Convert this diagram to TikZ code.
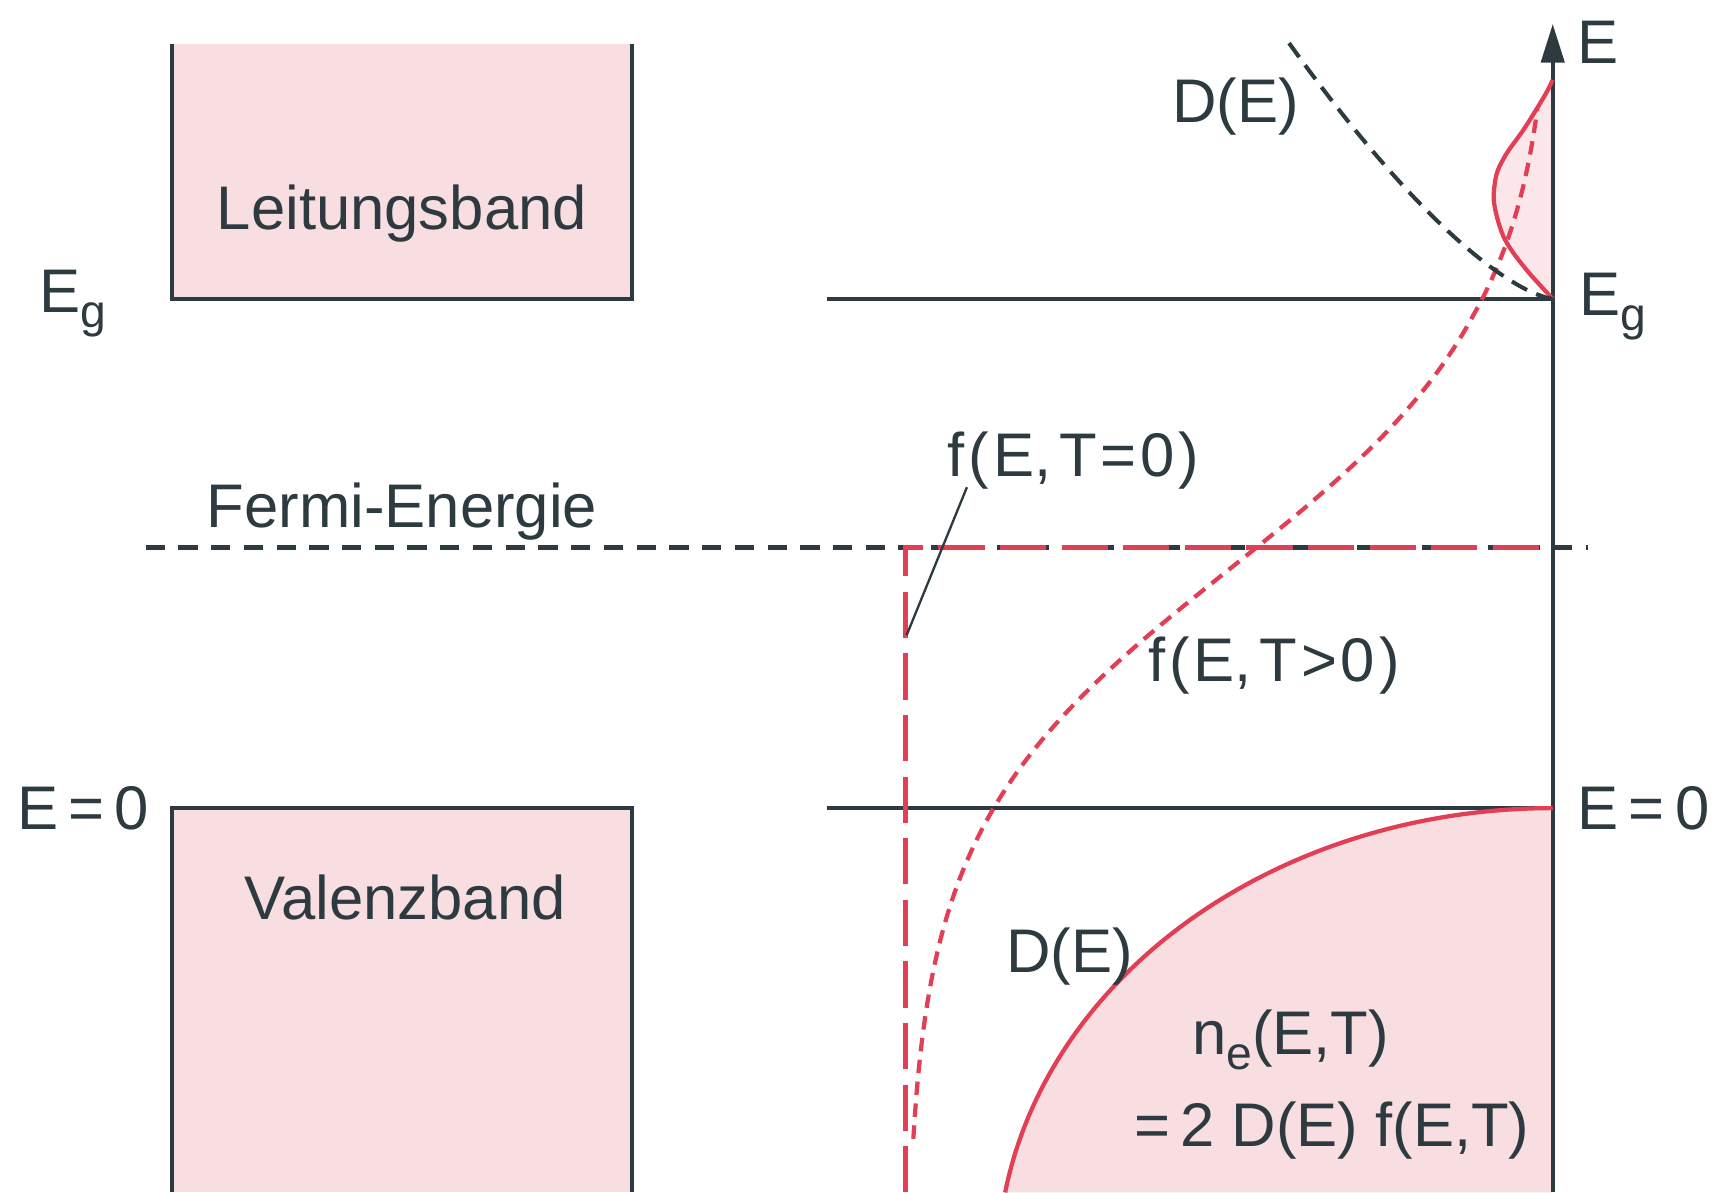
\documentclass[tikz,border=0pt]{standalone}
\usepackage{fontspec}
\setmainfont{Liberation Sans}
\usetikzlibrary{arrows.meta}
\definecolor{bandpink}{RGB}{248,221,225}
\definecolor{lobepink}{RGB}{251,230,234}
\definecolor{curvered}{RGB}{226,62,84}
\definecolor{ink}{RGB}{45,58,64}
\newcommand\lowsub[1]{\raisebox{-4pt}{\fontsize{12}{12}\selectfont #1}}
\begin{document}
\begin{tikzpicture}[x=0.01cm,y=0.01cm,
  lbl/.style={font=\fontsize{16}{16}\selectfont, text=ink, inner sep=0pt, anchor=base west},
  clbl/.style={font=\fontsize{16}{16}\selectfont, text=ink, inner sep=0pt, anchor=base},
  inkline/.style={draw=ink, line width=1.05pt},
  redsolid/.style={draw=curvered, line width=1.1pt},
  redlong/.style={draw=curvered, line width=1.1pt, dash pattern=on 12pt off 4pt},
  redshort/.style={draw=curvered, line width=1.1pt, dash pattern=on 3.5pt off 2.2pt},
  inkdash/.style={draw=ink, line width=1.05pt, dash pattern=on 5pt off 3.5pt},
  leader/.style={draw=ink, line width=0.6pt}]
\useasboundingbox (0,0) rectangle (1568,1089);

% band boxes
\fill[bandpink] (157,816) rectangle (577,1049);
\draw[inkline] (157,1049) -- (157,816) -- (577,816) -- (577,1049);
\fill[bandpink] (157,0) rectangle (577,351);
\draw[inkline] (157,0) -- (157,351) -- (577,351) -- (577,0);

% filled regions on the right
\fill[bandpink] (1418,351) -- plot[domain=90:170.54, samples=80] ({1418+507*cos(\x)}, {-69+420*sin(\x)}) -- (1418,0) -- cycle;
\fill[lobepink] plot[smooth] coordinates {(1418,816) (1397,839) (1382,858) (1373,873) (1367,891) (1364,909) (1367,931) (1376,949) (1391,970) (1403,989) (1412,1004) (1418,1016)} -- cycle;

% Fermi level
\draw[inkdash] (133,589) -- (1450,589);

% level lines and axis
\draw[inkline] (755,816) -- (1418,816);
\draw[inkline] (755,351) -- (1418,351);
\draw[inkline, -{Triangle[length=10pt,width=6pt]}] (1418,0) -- (1418,1067);

% f(E,T=0)
\draw[redlong] (827,0) -- (827,589) -- (1418,589);
% f(E,T>0)
\draw[redshort] plot[domain=49:990, samples=120, smooth] ({1418-591/(1+exp((\x-569)/(118-0.025*max(\x-800,0))))}, \x);

% densities
\draw[redsolid] plot[domain=90:170.54, samples=80] ({1418+507*cos(\x)}, {-69+420*sin(\x)});
\draw[redsolid] plot[smooth] coordinates {(1418,816) (1397,839) (1382,858) (1373,873) (1367,891) (1364,909) (1367,931) (1376,949) (1391,970) (1403,989) (1412,1004) (1418,1016)};
\draw[draw=ink, line width=1.05pt, dash pattern=on 4.5pt off 2.6pt] (1418,816) -- plot[domain=1:234, samples=60, smooth] ({1418-5.44*\x^0.695}, {816+\x});

% labels
\node[clbl] (lb) at (367,879) {Leitungsband};
\node[clbl] (vb) at (370,249) {Valenzband};
\node[clbl] (fe) at (367,607) {Fermi-Energie};
\node[lbl] (egl) at (35,804) {E\lowsub{g}};
\node[lbl] (e0l) at (15,331) {E\,=\,0};
\node[lbl] (egr) at (1442,801) {E\lowsub{g}};
\node[lbl] (e0r) at (1440,331) {E\,=\,0};
\node[lbl] (eax) at (1440,1031) {E};
\node[lbl] (dtop) at (1070,977) {D(E)};
\node[lbl] (f0) at (865,654) {f\kern1pt(\kern1pt E,\kern2pt T\kern1pt=\kern1pt0\kern1pt)};
\node[lbl] (ft) at (1048,467) {f\kern1pt(\kern1pt E,\kern2pt T\kern1pt>\kern1pt0\kern1pt)};
\node[lbl] (dbot) at (918,201) {D(E)};
\node[lbl] (ne) at (1088,126) {n\lowsub{e}(E,T)};
\node[lbl] (neq) at (1035,42) {=\,2 D(E) f(E,T)};

% leader for f(E,T=0)
\coordinate (fleadtop) at (883,644);
\coordinate (fleadbot) at (828,509);
\draw[leader] (fleadtop) -- (fleadbot);
\end{tikzpicture}
\end{document}
